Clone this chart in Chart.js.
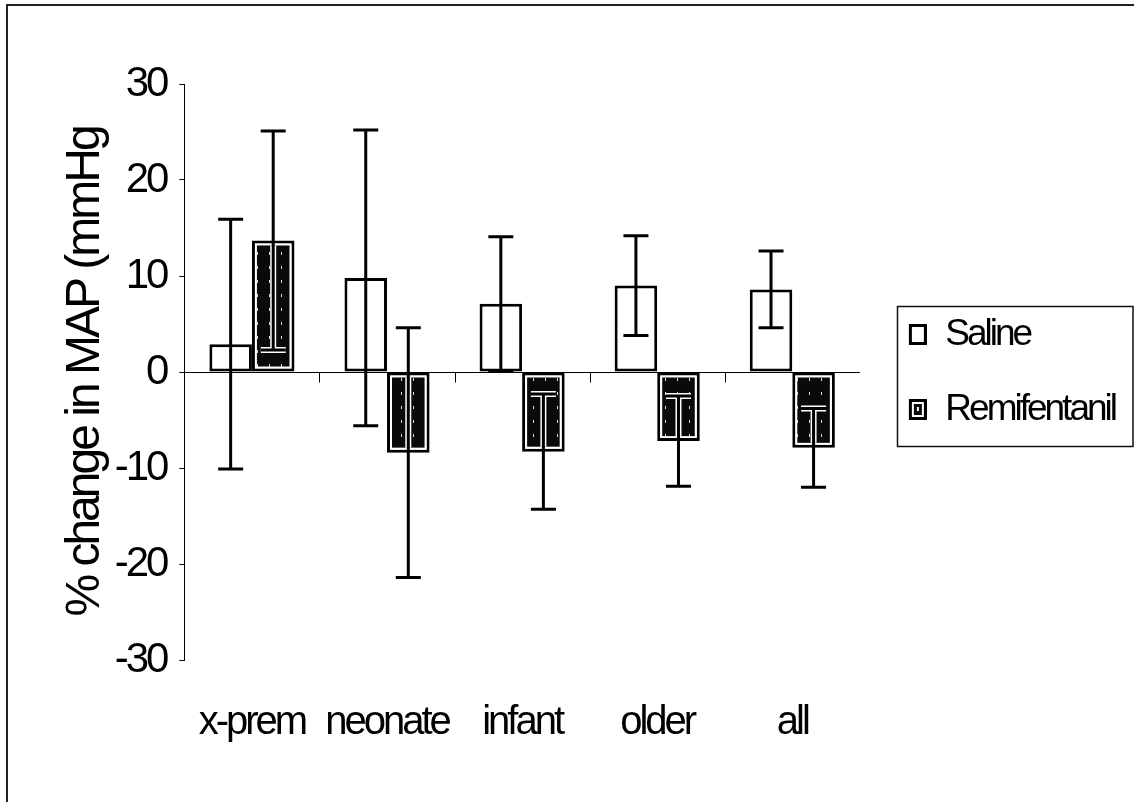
<!DOCTYPE html>
<html>
<head>
<meta charset="utf-8">
<script src="https://cdn.jsdelivr.net/npm/chart.js@4.4.0/dist/chart.umd.min.js"></script>
<style>
  html, body { margin: 0; padding: 0; background: #fff; }
  canvas { display: block; }
</style>
</head>
<body>
<canvas id="chart" width="1134" height="802"></canvas>
<script>
// Age groups along the category axis
const categories = ['x-prem', 'neonate', 'infant', 'older', 'all'];

// Mean % change in MAP and the error-bar half-length for each group
const salineMean = [2.9, 9.8, 7.1, 9.0, 8.6];
const salineErr  = [13.0, 15.4, 7.0, 5.2, 4.0];
const remiMean   = [13.7, -8.4, -8.3, -7.2, -7.9];
const remiErr    = [11.4, 13.0, 6.0, 4.7, 4.1];

// Value axis ticks
const yTicks = [-30, -20, -10, 0, 10, 20, 30];

const seriesNames = ['Saline', 'Remifentanil'];
const yTitle = '% change in MAP (mmHg';

const FONT = "'Liberation Sans', Arial, Helvetica, sans-serif";
const INK = '#000';

// Dark speckled fill used inside the Remifentanil bars
function makeHatchTile() {
  const t = document.createElement('canvas');
  t.width = 12; t.height = 14;
  const c = t.getContext('2d');
  c.fillStyle = '#0a0a0a';
  c.fillRect(0, 0, 12, 14);
  c.fillStyle = 'rgba(255,255,255,0.85)';
  c.fillRect(5, 0, 1, 3);
  return t;
}
const hatchTile = makeHatchTile();

// Legend keys: open box for saline, boxed dark fill for remifentanil
function makeKey(filled) {
  const k = document.createElement('canvas');
  k.width = 29; k.height = 21;
  const c = k.getContext('2d');
  const x0 = 11, w = 18, h = 21;
  c.fillStyle = INK;
  c.fillRect(x0, 0, w, h);
  c.fillStyle = '#fff';
  c.fillRect(x0 + 3, 3, w - 6, h - 6);
  if (filled) {
    c.fillStyle = '#0a0a0a';
    c.fillRect(x0 + 5, 5, w - 10, h - 10);
    c.fillStyle = '#fff';
    c.fillRect(x0 + 8, 8, 2, 4);
  }
  return k;
}
const legendKeys = [makeKey(false), makeKey(true)];

// Narrow letter spacing for all chart text
const tightText = {
  id: 'tightText',
  beforeLayout(chart) { chart.ctx.letterSpacing = '-3px'; },
  beforeDraw(chart) { chart.ctx.letterSpacing = '-3px'; }
};

// Page frame and background
const frame = {
  id: 'frame',
  beforeDraw(chart) {
    const ctx = chart.ctx;
    ctx.save();
    ctx.fillStyle = '#fff';
    ctx.fillRect(0, 0, chart.width, chart.height);
    ctx.strokeStyle = '#222';
    ctx.lineWidth = 2;
    ctx.beginPath();
    ctx.moveTo(7, chart.height);
    ctx.lineTo(7, 5);
    ctx.lineTo(chart.width, 5);
    ctx.stroke();
    ctx.restore();
  }
};

// Category axis drawn through zero with tick marks between groups
const zeroAxis = {
  id: 'zeroAxis',
  beforeDatasetsDraw(chart) {
    const {ctx, chartArea, scales: {x, y}} = chart;
    const y0 = Math.round(y.getPixelForValue(0)) + 0.5;
    ctx.save();
    ctx.strokeStyle = INK;
    ctx.lineWidth = 1;
    ctx.beginPath();
    ctx.moveTo(chartArea.left, y0);
    ctx.lineTo(chartArea.right, y0);
    for (let i = 1; i < categories.length; i++) {
      const bx = Math.round((x.getPixelForValue(i - 1) + x.getPixelForValue(i)) / 2) + 0.5;
      ctx.moveTo(bx, y0);
      ctx.lineTo(bx, y0 + 10);
    }
    ctx.stroke();
    ctx.restore();
  }
};

function barRect(el) {
  const p = el.getProps(['x', 'y', 'base', 'width'], true);
  return {
    left: p.x - p.width / 2,
    right: p.x + p.width / 2,
    top: Math.min(p.y, p.base),
    bottom: Math.max(p.y, p.base),
    cx: p.x
  };
}

// Inner dark fill of the remifentanil bars, then the error bars on top
const barExtras = {
  id: 'barExtras',
  afterDatasetsDraw(chart) {
    const {ctx, scales: {y}} = chart;
    const pattern = ctx.createPattern(hatchTile, 'repeat');
    const inset = 5;
    const remiMeta = chart.getDatasetMeta(1);

    ctx.save();
    remiMeta.data.forEach(el => {
      const r = barRect(el);
      ctx.fillStyle = pattern;
      ctx.fillRect(r.left + inset, r.top + inset, r.right - r.left - 2 * inset, r.bottom - r.top - 2 * inset);
    });
    ctx.restore();

    const errs = [salineErr, remiErr];
    const means = [salineMean, remiMean];
    const cap = 12.5;

    function strokeBar(cx, yHi, yLo, width, color) {
      ctx.strokeStyle = color;
      ctx.lineWidth = width;
      ctx.lineCap = 'butt';
      ctx.beginPath();
      ctx.moveTo(cx, yHi); ctx.lineTo(cx, yLo);
      ctx.moveTo(cx - cap, yHi); ctx.lineTo(cx + cap, yHi);
      ctx.moveTo(cx - cap, yLo); ctx.lineTo(cx + cap, yLo);
      ctx.stroke();
    }

    [0, 1].forEach(ds => {
      const meta = chart.getDatasetMeta(ds);
      meta.data.forEach((el, i) => {
        const r = barRect(el);
        const yHi = y.getPixelForValue(means[ds][i] + errs[ds][i]);
        const yLo = y.getPixelForValue(means[ds][i] - errs[ds][i]);
        ctx.save();
        if (ds === 1) {
          // light halo where the bar crosses the dark fill
          ctx.save();
          ctx.beginPath();
          ctx.rect(r.left + inset, r.top + inset, r.right - r.left - 2 * inset, r.bottom - r.top - 2 * inset);
          ctx.clip();
          strokeBar(r.cx, yHi, yLo, 6, '#fff');
          ctx.restore();
        }
        strokeBar(r.cx, yHi, yLo, 3, INK);
        ctx.restore();
      });
    });
  }
};

// Box round the legend
const legendBox = {
  id: 'legendBox',
  afterDraw(chart) {
    const lg = chart.legend;
    if (!lg || !lg.legendHitBoxes || !lg.legendHitBoxes.length) return;
    const hb = lg.legendHitBoxes;
    const left = Math.min(...hb.map(h => h.left)) - 1;
    const top = Math.min(...hb.map(h => h.top)) - 10;
    const bottom = Math.max(...hb.map(h => h.top + h.height)) + 18;
    const right = chart.width - 1.5;
    const ctx = chart.ctx;
    ctx.save();
    ctx.strokeStyle = '#111';
    ctx.lineWidth = 1.5;
    ctx.strokeRect(Math.round(left) + 0.5, Math.round(top) + 0.5, right - Math.round(left), Math.round(bottom - top));
    ctx.restore();
  }
};

const ctx = document.getElementById('chart').getContext('2d');
new Chart(ctx, {
  type: 'bar',
  data: {
    labels: categories,
    datasets: [
      {
        label: seriesNames[0],
        data: salineMean,
        backgroundColor: '#fff',
        borderColor: INK,
        borderWidth: 3,
        borderSkipped: false
      },
      {
        label: seriesNames[1],
        data: remiMean,
        backgroundColor: '#fff',
        borderColor: INK,
        borderWidth: 3,
        borderSkipped: false
      }
    ]
  },
  options: {
    responsive: false,
    animation: false,
    devicePixelRatio: 1,
    layout: { padding: { left: 20, right: 9, top: 84, bottom: 16 } },
    datasets: { bar: { categoryPercentage: 0.63, barPercentage: 1.0 } },
    scales: {
      x: {
        grid: { display: false, drawTicks: false },
        border: { display: false },
        ticks: {
          color: INK,
          padding: 39,
          maxRotation: 0,
          minRotation: 0,
          autoSkip: false,
          font: { family: FONT, size: 40 }
        }
      },
      y: {
        min: yTicks[0],
        max: yTicks[yTicks.length - 1],
        afterBuildTicks(scale) { scale.ticks = yTicks.map(v => ({ value: v })); },
        grid: {
          drawOnChartArea: false,
          drawTicks: true,
          tickLength: 5,
          color: INK,
          lineWidth: 1
        },
        border: { display: true, color: INK, width: 1 },
        ticks: {
          color: INK,
          padding: 13,
          font: { family: FONT, size: 42 }
        },
        title: {
          display: true,
          text: yTitle,
          color: INK,
          padding: { top: 50, bottom: 0 },
          font: { family: FONT, size: 48, lineHeight: 0.66 }
        }
      }
    },
    plugins: {
      tooltip: { enabled: false },
      legend: {
        position: 'right',
        align: 'center',
        fullSize: false,
        labels: {
          color: INK,
          font: { family: FONT, size: 37 },
          usePointStyle: true,
          pointStyleWidth: 29,
          boxHeight: 21,
          padding: 38,
          generateLabels(chart) {
            return chart.data.datasets.map((d, i) => ({
              text: d.label,
              datasetIndex: i,
              pointStyle: legendKeys[i],
              fontColor: INK,
              hidden: false,
              lineWidth: 0,
              strokeStyle: 'rgba(0,0,0,0)',
              fillStyle: 'rgba(0,0,0,0)'
            }));
          }
        }
      }
    }
  },
  plugins: [tightText, frame, zeroAxis, barExtras, legendBox]
});
</script>
</body>
</html>
